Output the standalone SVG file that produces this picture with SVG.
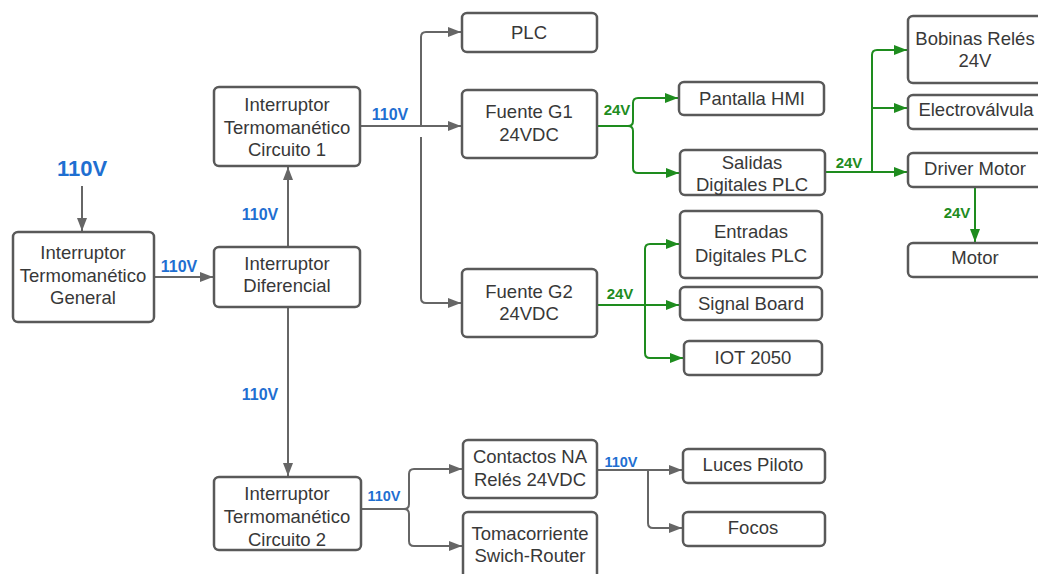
<svg xmlns="http://www.w3.org/2000/svg" width="1038" height="574" viewBox="0 0 1038 574">
  <defs>
    <style>
      .box { fill: #ffffff; stroke: #595959; stroke-width: 2.5; }
      .txt { font-family: "Liberation Sans", Arial, sans-serif; font-size: 18.5px; fill: #383838; text-anchor: middle; }
      .ac { fill: none; stroke: #666666; stroke-width: 2; }
      .dc { fill: none; stroke: #1e8c1e; stroke-width: 2; }
      .lb { font-family: "Liberation Sans", Arial, sans-serif; font-weight: bold; text-anchor: middle; }
      .blue { fill: #1f6fd1; font-size: 16px; }
      .green { fill: #1e8c1e; font-size: 15px; }
    </style>
    <marker id="ahGray" markerUnits="userSpaceOnUse" markerWidth="14" markerHeight="11" refX="13" refY="5" orient="auto">
      <path d="M0,0 L13,5 L0,10 z" fill="#666666"/>
    </marker>
    <marker id="ahGreen" markerUnits="userSpaceOnUse" markerWidth="14" markerHeight="11" refX="13" refY="5" orient="auto">
      <path d="M0,0 L13,5 L0,10 z" fill="#1e8c1e"/>
    </marker>
  </defs>

  <rect width="1038" height="574" fill="#ffffff"/>

  <!-- connectors -->
  <g id="connectors">
    <path class="ac" d="M82,186 V231" marker-end="url(#ahGray)"/>
    <path class="ac" d="M154,277 H213" marker-end="url(#ahGray)"/>
    <path class="ac" d="M288,247 V167" marker-end="url(#ahGray)"/>
    <path class="ac" d="M288,307 V476" marker-end="url(#ahGray)"/>
    <path class="ac" d="M360,126 H461" marker-end="url(#ahGray)"/>
    <path class="ac" d="M421,126 V37 Q421,32 426,32 H461" marker-end="url(#ahGray)"/>
    <path class="ac" d="M421,137 V298 Q421,303 426,303 H461" marker-end="url(#ahGray)"/>
    <path class="ac" d="M361,509 H404 Q409,509 409,504 V474 Q409,469 414,469 H462" marker-end="url(#ahGray)"/>
    <path class="ac" d="M404,509 Q409,509 409,514 V541 Q409,546 414,546 H462" marker-end="url(#ahGray)"/>
    <path class="ac" d="M597,470 H682" marker-end="url(#ahGray)"/>
    <path class="ac" d="M648,470 V523 Q648,528 653,528 H682" marker-end="url(#ahGray)"/>

    <path class="dc" d="M597,126 H628 Q633,126 633,121 V103 Q633,98 638,98 H678" marker-end="url(#ahGreen)"/>
    <path class="dc" d="M628,126 Q633,126 633,131 V168 Q633,173 638,173 H679" marker-end="url(#ahGreen)"/>
    <path class="dc" d="M825,172 H907" marker-end="url(#ahGreen)"/>
    <path class="dc" d="M872,172 V55 Q872,50 877,50 H907" marker-end="url(#ahGreen)"/>
    <path class="dc" d="M872,108 H907" marker-end="url(#ahGreen)"/>
    <path class="dc" d="M975,187 V242" marker-end="url(#ahGreen)"/>
    <path class="dc" d="M597,305 H679" marker-end="url(#ahGreen)"/>
    <path class="dc" d="M645,305 V249 Q645,244 650,244 H679" marker-end="url(#ahGreen)"/>
    <path class="dc" d="M645,305 V353 Q645,358 650,358 H683" marker-end="url(#ahGreen)"/>

    <!-- voltage labels -->
    <text class="lb" x="82" y="176" font-size="22" fill="#1f6fd1">110V</text>
    <text class="lb blue" x="179" y="272">110V</text>
    <text class="lb blue" x="260" y="220">110V</text>
    <text class="lb blue" x="260" y="400">110V</text>
    <text class="lb blue" x="390" y="120">110V</text>
    <text class="lb blue" x="384" y="501" style="font-size:14.5px">110V</text>
    <text class="lb blue" x="621" y="467" style="font-size:14.5px">110V</text>
    <text class="lb green" x="617" y="115">24V</text>
    <text class="lb green" x="620" y="299">24V</text>
    <text class="lb green" x="849" y="168">24V</text>
    <text class="lb green" x="957" y="218">24V</text>
  </g>

  <!-- nodes -->
  <g id="itm-general">
    <rect class="box" x="13" y="232" width="141" height="90" rx="5"/>
    <text class="txt" x="83" y="259">Interruptor</text>
    <text class="txt" x="83" y="282">Termomanético</text>
    <text class="txt" x="83" y="304">General</text>
  </g>
  <g id="interruptor-diferencial">
    <rect class="box" x="214" y="247" width="146" height="60" rx="5"/>
    <text class="txt" x="287" y="270">Interruptor</text>
    <text class="txt" x="287" y="292">Diferencial</text>
  </g>
  <g id="itm-circuito-1">
    <rect class="box" x="214" y="87" width="146" height="79" rx="5"/>
    <text class="txt" x="287" y="111">Interruptor</text>
    <text class="txt" x="287" y="134">Termomanético</text>
    <text class="txt" x="287" y="156">Circuito 1</text>
  </g>
  <g id="itm-circuito-2">
    <rect class="box" x="214" y="477" width="147" height="73" rx="5"/>
    <text class="txt" x="287" y="500">Interruptor</text>
    <text class="txt" x="287" y="523">Termomanético</text>
    <text class="txt" x="287" y="546">Circuito 2</text>
  </g>
  <g id="plc">
    <rect class="box" x="462" y="13" width="135" height="39" rx="5"/>
    <text class="txt" x="529" y="39">PLC</text>
  </g>
  <g id="fuente-g1">
    <rect class="box" x="462" y="90" width="135" height="68" rx="5"/>
    <text class="txt" x="529" y="118">Fuente G1</text>
    <text class="txt" x="529" y="141">24VDC</text>
  </g>
  <g id="fuente-g2">
    <rect class="box" x="462" y="269" width="135" height="68" rx="5"/>
    <text class="txt" x="529" y="298">Fuente G2</text>
    <text class="txt" x="529" y="320">24VDC</text>
  </g>
  <g id="pantalla-hmi">
    <rect class="box" x="679" y="82" width="145" height="33" rx="5"/>
    <text class="txt" x="752" y="105">Pantalla HMI</text>
  </g>
  <g id="salidas-digitales">
    <rect class="box" x="680" y="150" width="145" height="45" rx="5"/>
    <text class="txt" x="752" y="169">Salidas</text>
    <text class="txt" x="752" y="191">Digitales PLC</text>
  </g>
  <g id="entradas-digitales">
    <rect class="box" x="680" y="211" width="142" height="67" rx="5"/>
    <text class="txt" x="751" y="238">Entradas</text>
    <text class="txt" x="751" y="262">Digitales PLC</text>
  </g>
  <g id="signal-board">
    <rect class="box" x="680" y="287" width="142" height="33" rx="5"/>
    <text class="txt" x="751" y="310">Signal Board</text>
  </g>
  <g id="iot-2050">
    <rect class="box" x="684" y="341" width="138" height="34" rx="5"/>
    <text class="txt" x="753" y="364">IOT 2050</text>
  </g>
  <g id="bobinas-reles">
    <rect class="box" x="908" y="16" width="136" height="67" rx="5"/>
    <text class="txt" x="975" y="45">Bobinas Relés</text>
    <text class="txt" x="975" y="67">24V</text>
  </g>
  <g id="electrovalvula">
    <rect class="box" x="908" y="95" width="136" height="34" rx="5"/>
    <text class="txt" x="976" y="116">Electroválvula</text>
  </g>
  <g id="driver-motor">
    <rect class="box" x="908" y="153" width="136" height="34" rx="5"/>
    <text class="txt" x="975" y="175">Driver Motor</text>
  </g>
  <g id="motor">
    <rect class="box" x="908" y="243" width="136" height="34" rx="5"/>
    <text class="txt" x="975" y="264">Motor</text>
  </g>
  <g id="contactos-na">
    <rect class="box" x="463" y="440" width="134" height="58" rx="5"/>
    <text class="txt" x="530" y="463">Contactos NA</text>
    <text class="txt" x="530" y="486">Relés 24VDC</text>
  </g>
  <g id="tomacorriente">
    <rect class="box" x="463" y="512" width="134" height="70" rx="5"/>
    <text class="txt" x="530" y="540">Tomacorriente</text>
    <text class="txt" x="530" y="562">Swich-Router</text>
  </g>
  <g id="luces-piloto">
    <rect class="box" x="683" y="449" width="142" height="34" rx="5"/>
    <text class="txt" x="753" y="471">Luces Piloto</text>
  </g>
  <g id="focos">
    <rect class="box" x="683" y="512" width="142" height="34" rx="5"/>
    <text class="txt" x="753" y="534">Focos</text>
  </g>
</svg>
